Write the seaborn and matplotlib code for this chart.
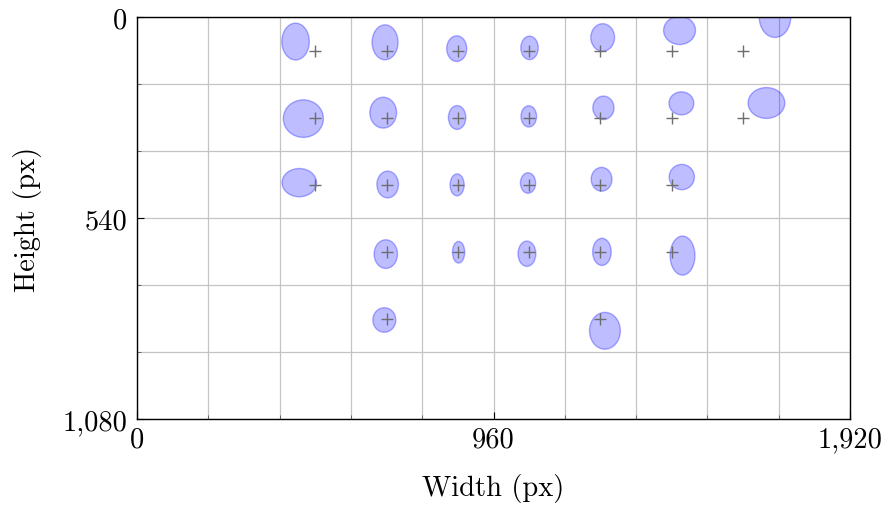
import matplotlib
matplotlib.use("Agg")
import matplotlib.pyplot as plt
import seaborn as sns
import pandas as pd
from matplotlib.patches import Ellipse
from matplotlib.ticker import MultipleLocator, FixedLocator

# Grid points (markers)
cross_x = [480, 672, 864, 1056, 1248, 1440, 1632,
           480, 672, 864, 1056, 1248, 1440, 1632,
           480, 672, 864, 1056, 1248, 1440,
           672, 864, 1056, 1248, 1440,
           672, 1248]
cross_y = [90] * 7 + [270] * 7 + [450] * 6 + [630] * 5 + [810] * 2

# Fitted ellipses (center, width, height) in px
ell_cx = [427, 668, 861, 1057, 1254, 1461, 1718,
          448, 663, 862, 1055, 1256, 1466, 1695,
          437, 675, 862, 1053, 1251, 1467,
          670, 866, 1050, 1252, 1469,
          666, 1260]
ell_cy = [66, 68, 85, 83, 55, 36, 0,
          273, 257, 270, 267, 244, 232, 231,
          445, 450, 451, 446, 436, 430,
          637, 632, 636, 631, 641,
          814, 843]
ell_w = [74, 70, 54, 47, 64, 86, 85,
         108, 72, 47, 42, 57, 67, 99,
         93, 58, 38, 41, 56, 68,
         63, 33, 48, 50, 67,
         62, 83]
ell_h = [99, 94, 69, 63, 74, 76, 110,
         101, 83, 64, 57, 63, 62, 83,
         76, 72, 59, 55, 64, 68,
         77, 58, 68, 73, 105,
         66, 99]

x_ticks = [0, 960, 1920]
x_labels = ["0", "960", "1,920"]
y_ticks = [0, 540, 1080]
y_labels = ["0", "540", "1,080"]

sns.set_theme(style="white")
plt.rcParams["font.family"] = ["cmr10", "DejaVu Serif"]
plt.rcParams["axes.formatter.use_mathtext"] = True
plt.rcParams["axes.labelcolor"] = "black"
plt.rcParams["text.color"] = "black"

fig = plt.figure(figsize=(8.88, 5.06), dpi=100)
ax = fig.add_axes([137 / 888, 1 - 420 / 506, 713 / 888, 402 / 506])

for cx, cy, w, h in zip(ell_cx, ell_cy, ell_w, ell_h):
    e = Ellipse((cx, cy), w, h, facecolor=(0.0, 0.0, 1.0, 0.26),
                edgecolor=(0.0, 0.0, 1.0, 0.3), linewidth=1.0, zorder=2)
    ax.add_patch(e)

df = pd.DataFrame({"x": cross_x, "y": cross_y})
sns.scatterplot(data=df, x="x", y="y", marker="+", s=70, color="#6e6e6e",
                linewidth=1.0, ax=ax, zorder=3, legend=False)

ax.set_xlim(0, 1920)
ax.set_ylim(1080, 0)
ax.xaxis.set_major_locator(FixedLocator(x_ticks))
ax.yaxis.set_major_locator(FixedLocator(y_ticks))
ax.xaxis.set_minor_locator(MultipleLocator(192))
ax.yaxis.set_minor_locator(MultipleLocator(180))
ax.set_xticklabels(x_labels)
ax.set_yticklabels(y_labels)

ax.grid(True, which="both", color="#c4c4c4", linewidth=0.9, zorder=0)
ax.set_axisbelow(True)
ax.tick_params(which="both", direction="in", labelsize=20.5, colors="black",
               top=False, right=False, left=True, bottom=True)
ax.tick_params(which="major", length=5, width=0.8)
ax.tick_params(axis="y", which="major", pad=7)
ax.tick_params(axis="x", which="major", pad=5)
ax.tick_params(which="minor", length=3, width=0.6, color="#555555")
for sp in ax.spines.values():
    sp.set_color("black")
    sp.set_linewidth(1.0)

ax.set_xlabel("Width (px)", fontsize=20.5, labelpad=15, color="black")
ax.set_ylabel("Height (px)", fontsize=20.5, labelpad=15, color="black")

fig.savefig("out.png", dpi=100)
